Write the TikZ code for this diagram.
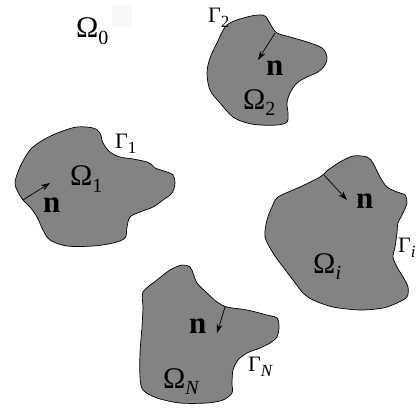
\documentclass[tikz,border=0pt]{standalone}
\usepackage{fontspec}
\setmainfont{Liberation Serif}
\usetikzlibrary{arrows.meta}
\definecolor{blobgray}{RGB}{131,131,131}
\newcommand\sbs[2]{\raisebox{-#1pt}{\fontsize{20}{20}\selectfont #2}}
\newcommand\sbg[2]{\raisebox{-#1pt}{\fontsize{17}{17}\selectfont #2}}
\begin{document}
\begin{tikzpicture}[x=1pt,y=-1pt,
  blob/.style={draw=black, line width=0.7pt, fill=blobgray},
  omg/.style={font=\fontsize{30}{31}\selectfont, inner sep=0pt, anchor=base west},
  gam/.style={font=\fontsize{22}{24}\selectfont, inner sep=0pt, anchor=base west},
  nn/.style={font=\fontsize{31}{32}\selectfont\bfseries, inner sep=0pt, anchor=base west},
  narrow/.style={-{Stealth[length=9pt,width=6pt]}, line width=0.7pt}]
\useasboundingbox (0,0) rectangle (420,409);
% faint artifact square
\fill[gray!6] (112,5) rectangle (132,27);
% blob 1
\draw[blob] plot[smooth cycle, tension=0.55] coordinates {
 (15,182) (20,167) (30,150) (43,140) (60,132) (77,127) (93,128) (100,133)
 (103,143) (110,152) (120,157) (133,159) (147,162) (152,165) (155,168)
 (167,172) (173,175) (175,183) (172,193) (163,200) (153,207) (140,212)
 (130,217) (127,227) (125,238) (113,243) (93,246) (67,246) (50,240)
 (43,230) (37,217) (30,207) (23,200) (17,190)};
% blob 2
\draw[blob] plot[smooth cycle, tension=0.55] coordinates {
 (227,25) (247,17) (263,15) (268,20) (272,27) (277,33) (290,37) (307,42)
 (322,48) (327,57) (325,65) (318,72) (307,77) (297,83) (290,93) (287,103)
 (288,113) (287,122) (277,125) (260,125) (247,123) (233,117) (220,103)
 (210,90) (207,73) (210,58) (217,43)};
% blob i
\draw[blob] plot[smooth cycle, tension=0.5] coordinates {
 (278,197) (300,187) (320,177) (328,170) (340,162) (353,156) (367,157)
 (373,163) (380,177) (387,187) (397,192) (405,195) (407,203) (403,213)
 (398,223) (397,233) (395,247) (393,257) (397,267) (403,277) (408,287)
 (407,297) (397,303) (383,308) (360,310) (333,307) (313,300) (303,293)
 (293,280) (283,267) (273,253) (265,237) (267,220) (272,207)};
% blob N
\draw[blob] plot[smooth cycle, tension=0.5] coordinates {
 (143,292) (157,280) (170,270) (182,265) (190,267) (193,273) (197,283)
 (207,293) (217,302) (227,307) (247,310) (267,315) (277,318) (279,327)
 (277,337) (270,343) (260,348) (247,353) (238,360) (233,370) (232,383)
 (232,393) (223,400) (207,403) (180,403) (157,398) (143,390) (140,377)
 (140,353) (142,327) (143,307)};
% labels
\node[omg] (O0) at (76,38) {Ω\sbs{7}{0}};
\node[omg] (O1) at (70,185) {Ω\sbs{7}{1}};
\node[omg] (O2) at (243,110) {Ω\sbs{6}{2}};
\node[omg] (Oi) at (313,273) {Ω\sbs{6}{\textit{i}}};
\node[omg] (ON) at (163,388) {Ω\sbs{6}{\textit{N}}};
\node[gam] (G1) at (115,149) {Γ\sbg{5}{1}};
\node[gam] (G2) at (208,23) {Γ\sbg{5}{2}};
\node[gam] (Gi) at (398,252) {Γ\sbg{5}{\textit{i}}};
\node[gam] (GN) at (248,371) {Γ\sbg{5}{\textit{N}}};
\node[nn] (n1) at (43,212) {n};
\node[nn] (n2) at (266,76) {n};
\node[nn] (ni) at (356,208) {n};
\node[nn] (nN) at (189,333) {n};
% normal arrows
\coordinate (a1s) at (23,200); \coordinate (a1e) at (50,183);
\coordinate (a2s) at (275,33); \coordinate (a2e) at (258,60);
\coordinate (ais) at (324,175); \coordinate (aie) at (347,200);
\coordinate (aNs) at (225,307); \coordinate (aNe) at (217,333);
\draw[narrow] (a1s) -- (a1e);
\draw[narrow] (a2s) -- (a2e);
\draw[narrow] (ais) -- (aie);
\draw[narrow] (aNs) -- (aNe);
\end{tikzpicture}
\end{document}
